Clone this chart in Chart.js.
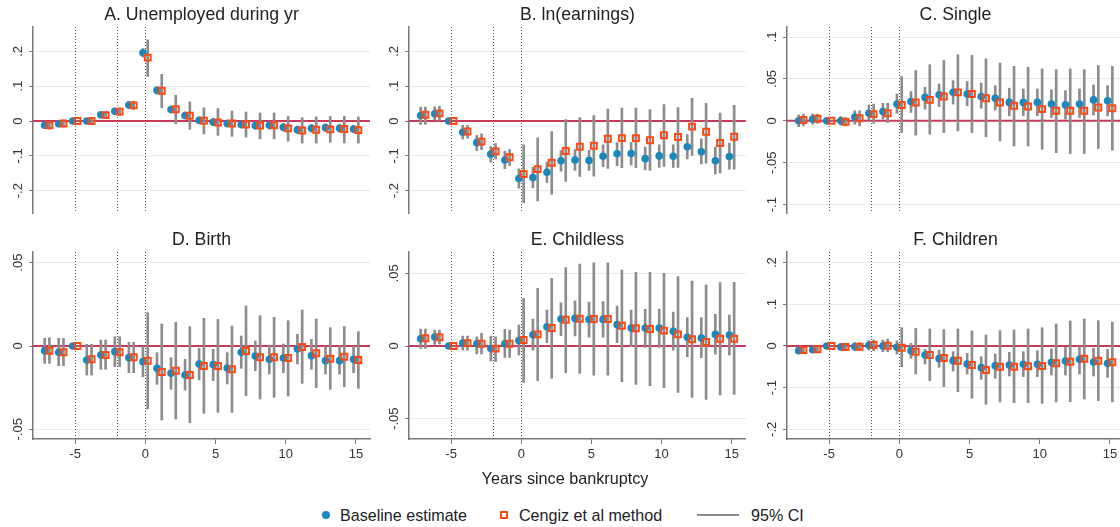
<!DOCTYPE html>
<html>
<head>
<meta charset="utf-8">
<script src="https://cdn.jsdelivr.net/npm/chart.js@4"></script>
<style>
  body { margin: 0; width: 1120px; height: 527px; overflow: hidden; background: #fff; position: relative;
         font-family: "Liberation Sans", Arial, sans-serif; color: #222; }
  canvas { position: absolute; }
  .ttl { position: absolute; font-size: 17.7px; line-height: 20px; white-space: nowrap; transform: translateX(-50%); }
  .xlab { position: absolute; left: 565px; top: 469px; font-size: 16.2px; transform: translateX(-50%); white-space: nowrap; }
  .leg { position: absolute; top: 506px; font-size: 16.1px; line-height: 18px; white-space: nowrap; }
  .dot { position: absolute; width: 8px; height: 8px; border-radius: 50%; background: #1a87bd; }
  .sq { position: absolute; width: 4px; height: 4px; border: 2px solid #fa4b16; }
  .ln { position: absolute; height: 2px; background: #8c8c8c; }
</style>
</head>
<body>
<canvas id="cA"></canvas><canvas id="cB"></canvas><canvas id="cC"></canvas>
<canvas id="cD"></canvas><canvas id="cE"></canvas><canvas id="cF"></canvas>

<div class="xlab">Years since bankruptcy</div>
<span class="dot" style="left:322px;top:511px"></span><span class="leg" style="left:340px">Baseline estimate</span>
<span class="sq" style="left:500px;top:511px"></span><span class="leg" style="left:519px">Cengiz et al method</span>
<span class="ln" style="left:697px;width:42px;top:514px"></span><span class="leg" style="left:751px">95% CI</span>

<script>
// event time, years relative to the bankruptcy year
const years = [-7, -6, -5, -4, -3, -2, -1, 0, 1, 2, 3, 4, 5, 6, 7, 8, 9, 10, 11, 12, 13, 14, 15];
const eventYears = [-5, -2, 0];
const xTicks = [-5, 0, 5, 10, 15];

// A. Unemployed during yr
const baseA = [-0.012, -0.008, 0, 0, 0.018, 0.028, 0.046, 0.196, 0.088, 0.033, 0.016, 0.002, -0.003, -0.007, -0.010, -0.013, -0.012, -0.018, -0.025, -0.021, -0.019, -0.021, -0.023];
const cengA = [-0.012, -0.007, 0, 0, 0.017, 0.027, 0.045, 0.182, 0.087, 0.034, 0.015, 0.001, -0.004, -0.007, -0.010, -0.013, -0.012, -0.021, -0.027, -0.025, -0.024, -0.023, -0.026];
const baseLoA = [-0.021, -0.016, 0, -0.007, 0.010, 0.019, 0.036, 0.184, 0.078, 0.023, 0.006, -0.008, -0.013, -0.017, -0.020, -0.024, -0.023, -0.029, -0.036, -0.032, -0.030, -0.032, -0.034];
const baseHiA = [-0.003, 0.000, 0, 0.007, 0.026, 0.037, 0.056, 0.208, 0.098, 0.043, 0.026, 0.012, 0.007, 0.003, 0.000, -0.002, -0.001, -0.007, -0.014, -0.010, -0.008, -0.010, -0.012];
const cengLoA = [-0.023, -0.017, 0, -0.008, 0.008, 0.016, 0.033, 0.128, 0.038, -0.008, -0.024, -0.037, -0.041, -0.044, -0.046, -0.051, -0.051, -0.058, -0.063, -0.063, -0.061, -0.063, -0.063];
const cengHiA = [-0.002, 0.003, 0, 0.008, 0.026, 0.038, 0.057, 0.233, 0.134, 0.074, 0.055, 0.038, 0.036, 0.029, 0.026, 0.023, 0.023, 0.013, 0.010, 0.012, 0.013, 0.014, 0.012];

// B. ln(earnings)
const baseB = [0.016, 0.021, 0, -0.032, -0.062, -0.095, -0.112, -0.165, -0.162, -0.147, -0.114, -0.112, -0.113, -0.101, -0.094, -0.093, -0.108, -0.100, -0.101, -0.074, -0.088, -0.114, -0.102];
const cengB = [0.018, 0.022, 0, -0.030, -0.059, -0.087, -0.104, -0.152, -0.138, -0.120, -0.086, -0.074, -0.071, -0.051, -0.049, -0.049, -0.055, -0.041, -0.046, -0.016, -0.031, -0.063, -0.045];
const baseLoB = [-0.010, 0.003, 0, -0.051, -0.085, -0.118, -0.137, -0.193, -0.192, -0.176, -0.144, -0.142, -0.142, -0.131, -0.128, -0.126, -0.140, -0.133, -0.133, -0.109, -0.123, -0.152, -0.138];
const baseHiB = [0.040, 0.041, 0, -0.012, -0.041, -0.073, -0.087, -0.137, -0.133, -0.118, -0.085, -0.082, -0.084, -0.068, -0.062, -0.062, -0.075, -0.068, -0.068, -0.039, -0.051, -0.075, -0.063];
const cengLoB = [-0.010, 0.002, 0, -0.049, -0.082, -0.109, -0.128, -0.234, -0.229, -0.210, -0.173, -0.159, -0.158, -0.136, -0.134, -0.134, -0.142, -0.130, -0.133, -0.099, -0.121, -0.149, -0.138];
const cengHiB = [0.040, 0.042, 0, -0.012, -0.037, -0.065, -0.082, -0.068, -0.048, -0.030, 0.004, 0.010, 0.016, 0.034, 0.037, 0.037, 0.033, 0.047, 0.039, 0.065, 0.051, 0.023, 0.045];

// C. Single
const baseC = [0.000, 0.002, 0, 0.000, 0.0045, 0.009, 0.011, 0.020, 0.023, 0.028, 0.031, 0.034, 0.032, 0.029, 0.027, 0.022, 0.022, 0.022, 0.020, 0.019, 0.020, 0.025, 0.024];
const cengC = [0.001, 0.0025, 0, -0.001, 0.003, 0.008, 0.009, 0.019, 0.022, 0.025, 0.029, 0.034, 0.032, 0.027, 0.022, 0.018, 0.017, 0.014, 0.012, 0.012, 0.012, 0.016, 0.015];
const baseLoC = [-0.007, -0.004, 0, -0.005, -0.004, 0.001, 0.002, 0.009, 0.010, 0.014, 0.017, 0.020, 0.018, 0.015, 0.013, 0.006, 0.006, 0.006, 0.004, 0.002, 0.004, 0.007, 0.006];
const baseHiC = [0.007, 0.008, 0, 0.005, 0.012, 0.019, 0.021, 0.032, 0.035, 0.040, 0.044, 0.048, 0.047, 0.045, 0.042, 0.039, 0.038, 0.038, 0.037, 0.036, 0.038, 0.043, 0.042];
const cengLoC = [-0.006, -0.003, 0, -0.006, -0.006, -0.003, -0.002, -0.014, -0.017, -0.016, -0.014, -0.012, -0.014, -0.019, -0.024, -0.030, -0.030, -0.034, -0.038, -0.039, -0.039, -0.033, -0.035];
const cengHiC = [0.008, 0.008, 0, 0.004, 0.012, 0.020, 0.021, 0.053, 0.060, 0.067, 0.072, 0.079, 0.078, 0.074, 0.069, 0.065, 0.064, 0.062, 0.061, 0.062, 0.061, 0.066, 0.065];

// D. Birth
const baseD = [-0.0028, -0.0038, 0, -0.0084, -0.0054, -0.0034, -0.0070, -0.0094, -0.0134, -0.0164, -0.0174, -0.0108, -0.0112, -0.0132, -0.0038, -0.0060, -0.0080, -0.0072, -0.0018, -0.0058, -0.0088, -0.0088, -0.0080];
const cengD = [-0.0028, -0.0038, 0, -0.0080, -0.0054, -0.0038, -0.0068, -0.0088, -0.0156, -0.0148, -0.0174, -0.0120, -0.0120, -0.0140, -0.0030, -0.0068, -0.0068, -0.0072, -0.0006, -0.0044, -0.0076, -0.0064, -0.0084];
const baseLoD = [-0.0104, -0.0118, 0, -0.0174, -0.0140, -0.0124, -0.0160, -0.0184, -0.0230, -0.0260, -0.0264, -0.0204, -0.0208, -0.0228, -0.0134, -0.0148, -0.0168, -0.0160, -0.0108, -0.0140, -0.0168, -0.0168, -0.0160];
const baseHiD = [0.0046, 0.0046, 0, 0.0010, 0.0036, 0.0056, 0.0022, 0.0000, -0.0040, -0.0070, -0.0080, -0.0014, -0.0020, -0.0040, 0.0060, 0.0030, 0.0006, 0.0012, 0.0070, 0.0040, 0.0000, 0.0000, 0.0000];
const cengLoD = [-0.0104, -0.0118, 0, -0.0174, -0.0140, -0.0124, -0.0160, -0.0378, -0.0444, -0.0438, -0.0460, -0.0404, -0.0398, -0.0398, -0.0298, -0.0318, -0.0308, -0.0300, -0.0224, -0.0250, -0.0260, -0.0244, -0.0254];
const cengHiD = [0.0050, 0.0046, 0, 0.0010, 0.0036, 0.0056, 0.0022, 0.0200, 0.0132, 0.0142, 0.0116, 0.0166, 0.0160, 0.0120, 0.0240, 0.0182, 0.0172, 0.0152, 0.0216, 0.0162, 0.0110, 0.0116, 0.0086];

// E. Childless
const baseE = [0.0050, 0.0062, 0, 0.0020, 0.0016, -0.0018, 0.0016, 0.0037, 0.0078, 0.0133, 0.0186, 0.0190, 0.0183, 0.0183, 0.0147, 0.0124, 0.0124, 0.0124, 0.0101, 0.0060, 0.0055, 0.0080, 0.0076];
const cengE = [0.0053, 0.0060, 0, 0.0020, 0.0016, -0.0018, 0.0016, 0.0041, 0.0080, 0.0124, 0.0181, 0.0188, 0.0186, 0.0186, 0.0140, 0.0122, 0.0117, 0.0106, 0.0080, 0.0046, 0.0028, 0.0050, 0.0050];
const baseLoE = [-0.0016, 0.0011, 0, -0.0028, -0.0055, -0.0103, -0.0078, -0.0062, -0.0028, 0.0023, 0.0071, 0.0069, 0.0060, 0.0060, 0.0023, -0.0005, -0.0009, -0.0009, -0.0028, -0.0073, -0.0080, -0.0057, -0.0062];
const baseHiE = [0.0117, 0.0110, 0, 0.0069, 0.0064, 0.0069, 0.0115, 0.0144, 0.0186, 0.0248, 0.0298, 0.0310, 0.0303, 0.0305, 0.0275, 0.0248, 0.0252, 0.0255, 0.0234, 0.0195, 0.0195, 0.0218, 0.0213];
const cengLoE = [-0.0016, 0.0014, 0, -0.0028, -0.0055, -0.0108, -0.0078, -0.0250, -0.0239, -0.0222, -0.0183, -0.0188, -0.0200, -0.0200, -0.0245, -0.0264, -0.0273, -0.0287, -0.0319, -0.0353, -0.0367, -0.0337, -0.0333];
const cengHiE = [0.0117, 0.0110, 0, 0.0069, 0.0087, 0.0064, 0.0110, 0.0328, 0.0397, 0.0466, 0.0539, 0.0564, 0.0573, 0.0573, 0.0523, 0.0507, 0.0507, 0.0500, 0.0477, 0.0447, 0.0420, 0.0436, 0.0438];

// F. Children
const baseF = [-0.0112, -0.0088, 0, -0.0024, -0.0016, 0.0016, 0.0000, -0.0032, -0.0112, -0.0216, -0.0304, -0.0352, -0.0432, -0.0520, -0.0472, -0.0456, -0.0440, -0.0440, -0.0392, -0.0360, -0.0320, -0.0384, -0.0416];
const cengF = [-0.0096, -0.0080, 0, -0.0024, -0.0016, 0.0024, 0.0008, -0.0040, -0.0136, -0.0216, -0.0288, -0.0352, -0.0456, -0.0576, -0.0496, -0.0496, -0.0488, -0.0480, -0.0416, -0.0376, -0.0304, -0.0352, -0.0392];
const baseLoF = [-0.0176, -0.0160, 0, -0.0096, -0.0112, -0.0096, -0.0136, -0.0192, -0.0296, -0.0432, -0.0512, -0.0600, -0.0672, -0.0800, -0.0776, -0.0720, -0.0736, -0.0736, -0.0696, -0.0696, -0.0672, -0.0720, -0.0752];
const baseHiF = [-0.0032, -0.0016, 0, 0.0064, 0.0080, 0.0128, 0.0144, 0.0128, 0.0064, -0.0080, -0.0096, -0.0136, -0.0176, -0.0256, -0.0192, -0.0152, -0.0136, -0.0112, -0.0072, -0.0032, 0.0000, -0.0056, -0.0080];
const cengLoF = [-0.0160, -0.0144, 0, -0.0096, -0.0112, -0.0112, -0.0136, -0.0496, -0.0672, -0.0832, -0.0976, -0.1096, -0.1256, -0.1400, -0.1344, -0.1360, -0.1360, -0.1376, -0.1344, -0.1336, -0.1272, -0.1312, -0.1344];
const cengHiF = [-0.0032, -0.0016, 0, 0.0064, 0.0080, 0.0144, 0.0168, 0.0440, 0.0424, 0.0408, 0.0392, 0.0408, 0.0360, 0.0264, 0.0368, 0.0384, 0.0408, 0.0440, 0.0528, 0.0600, 0.0648, 0.0608, 0.0576];

const ticksWide = [-0.2, -0.1, 0, 0.1, 0.2];
const ticksC = [-0.1, -0.05, 0, 0.05, 0.1];
const ticksNarrow = [-0.05, 0, 0.05];

const panels = [
  { id: 'cA', title: 'A. Unemployed during yr', base: baseA, ceng: cengA, bLo: baseLoA, bHi: baseHiA, cLo: cengLoA, cHi: cengHiA,
    yMin: -0.264, yMax: 0.27, yTicks: ticksWide, box: [0, 0, 378, 225], pad: [33, 27, 8, 12], xAxis: false },
  { id: 'cB', title: 'B. ln(earnings)', base: baseB, ceng: cengB, bLo: baseLoB, bHi: baseHiB, cLo: cengLoB, cHi: cengHiB,
    yMin: -0.264, yMax: 0.27, yTicks: ticksWide, box: [378, 0, 374, 225], pad: [31, 27, 6, 12], xAxis: false },
  { id: 'cC', title: 'C. Single', base: baseC, ceng: cengC, bLo: baseLoC, bHi: baseHiC, cLo: cengLoC, cHi: cengHiC,
    yMin: -0.11, yMax: 0.112, yTicks: ticksC, box: [752, 0, 380, 225], pad: [35, 27, 8, 12], xAxis: false },
  { id: 'cD', title: 'D. Birth', base: baseD, ceng: cengD, bLo: baseLoD, bHi: baseHiD, cLo: cengLoD, cHi: cengHiD,
    yMin: -0.0558, yMax: 0.0564, yTicks: ticksNarrow, box: [0, 225, 378, 245], pad: [33, 27, 8, 7], xAxis: true },
  { id: 'cE', title: 'E. Childless', base: baseE, ceng: cengE, bLo: baseLoE, bHi: baseHiE, cLo: cengLoE, cHi: cengHiE,
    yMin: -0.064, yMax: 0.0647, yTicks: ticksNarrow, box: [378, 225, 374, 245], pad: [31, 27, 6, 7], xAxis: true },
  { id: 'cF', title: 'F. Children', base: baseF, ceng: cengF, bLo: baseLoF, bHi: baseHiF, cLo: cengLoF, cHi: cengHiF,
    yMin: -0.2233, yMax: 0.2257, yTicks: ticksWide, box: [752, 225, 380, 245], pad: [35, 27, 8, 7], xAxis: true }
];

const FONT = '"Liberation Sans", Arial, sans-serif';
const SHIFT = 0.17;   // horizontal nudge so the two estimates sit side by side

// Stata-style labels: ".2", "-.05", "0"
function fmt(v) {
  if (v === 0) return '0';
  return String(v).replace('0.', '.');
}

// y labels turned 90 degrees, reading upwards
const rotatedY = {
  id: 'rotatedY',
  afterDraw(chart) {
    const { ctx, chartArea, scales: { y } } = chart;
    ctx.save();
    ctx.font = '13px ' + FONT;
    ctx.fillStyle = '#333';
    ctx.textAlign = 'center';
    ctx.textBaseline = 'middle';
    y.ticks.forEach(t => {
      ctx.save();
      ctx.translate(chartArea.left - 15, y.getPixelForValue(t.value));
      ctx.rotate(-Math.PI / 2);
      ctx.fillText(fmt(t.value), 0, 0);
      ctx.restore();
    });
    ctx.restore();
  }
};

// dotted event markers and the red zero line
const refLines = {
  id: 'refLines',
  beforeDatasetsDraw(chart) {
    const { ctx, chartArea: a, scales: { x, y } } = chart;
    ctx.save();
    ctx.strokeStyle = '#555';
    ctx.lineWidth = 1;
    ctx.setLineDash([1, 2]);
    eventYears.forEach(v => {
      const px = Math.round(x.getPixelForValue(v)) + 0.5;
      ctx.beginPath();
      ctx.moveTo(px, a.top);
      ctx.lineTo(px, a.bottom);
      ctx.stroke();
    });
    ctx.setLineDash([]);
    ctx.strokeStyle = '#c73a5c';
    ctx.lineWidth = 2;
    const py = y.getPixelForValue(0);
    ctx.beginPath();
    ctx.moveTo(a.left, py);
    ctx.lineTo(a.right, py);
    ctx.stroke();
    ctx.restore();
  }
};

const pts = (vals, dx) => years.map((t, i) => ({ x: t + dx, y: vals[i] }));
const bars = (lo, hi, dx) => years.map((t, i) => ({ x: t + dx, y: [lo[i], hi[i]] }));

panels.forEach(p => {
  const cv = document.getElementById(p.id);
  const [left, top, w, h] = p.box;
  cv.width = w; cv.height = h;
  cv.style.left = left + 'px'; cv.style.top = top + 'px';

  const chart = new Chart(cv, {
    type: 'scatter',
    data: {
      datasets: [
        { type: 'scatter', label: 'Cengiz et al method', data: pts(p.ceng, SHIFT), order: 0,
          pointStyle: 'rect', pointRadius: 4.2, backgroundColor: 'rgba(0,0,0,0)', borderColor: '#fa4b16', pointBorderWidth: 2 },
        { type: 'scatter', label: 'Baseline estimate', data: pts(p.base, -SHIFT), order: 1,
          pointStyle: 'circle', pointRadius: 3.8, backgroundColor: '#1a87bd', borderColor: '#1a87bd', pointBorderWidth: 0 },
        { type: 'bar', label: '95% CI', data: bars(p.bLo, p.bHi, -SHIFT), order: 2,
          backgroundColor: '#8c8c8c', barThickness: 2, grouped: false, borderWidth: 0 },
        { type: 'bar', label: '95% CI', data: bars(p.cLo, p.cHi, SHIFT), order: 2,
          backgroundColor: '#8c8c8c', barThickness: 2, grouped: false, borderWidth: 0 }
      ]
    },
    options: {
      responsive: false,
      animation: false,
      devicePixelRatio: 1,
      events: [],
      layout: { padding: { left: p.pad[0], top: p.pad[1], right: p.pad[2], bottom: p.pad[3] } },
      plugins: { legend: { display: false }, tooltip: { enabled: false }, title: { display: false } },
      scales: {
        x: {
          type: 'linear', min: -8, max: 16, offset: false,
          display: p.xAxis,
          grid: { offset: false, drawOnChartArea: false, drawTicks: true, tickLength: 5, color: '#777' },
          border: { display: true, color: '#777', width: 1.5 },
          ticks: { font: { family: FONT, size: 13 }, color: '#333', padding: 3, callback: v => String(v) },
          afterBuildTicks: s => { s.ticks = xTicks.map(v => ({ value: v })); },
          afterFit: s => { s.height = p.xAxis ? 24 : 0; }
        },
        y: {
          type: 'linear', min: p.yMin, max: p.yMax,
          grid: { color: '#e9e9e9', lineWidth: 1, drawTicks: true, tickLength: 4, tickColor: '#777' },
          border: { display: true, color: '#777', width: 1.5 },
          ticks: { display: false },
          afterBuildTicks: s => { s.ticks = p.yTicks.map(v => ({ value: v })); },
          afterFit: s => { s.width = 0; }
        }
      }
    },
    plugins: [refLines, rotatedY]
  });

  // panel heading, centred over the plot region
  const a = chart.chartArea;
  const ttl = document.createElement('div');
  ttl.className = 'ttl';
  ttl.textContent = p.title;
  ttl.style.left = (left + (a.left + a.right) / 2) + 'px';
  ttl.style.top = (top + 4) + 'px';
  document.body.appendChild(ttl);
});
</script>
</body>
</html>
